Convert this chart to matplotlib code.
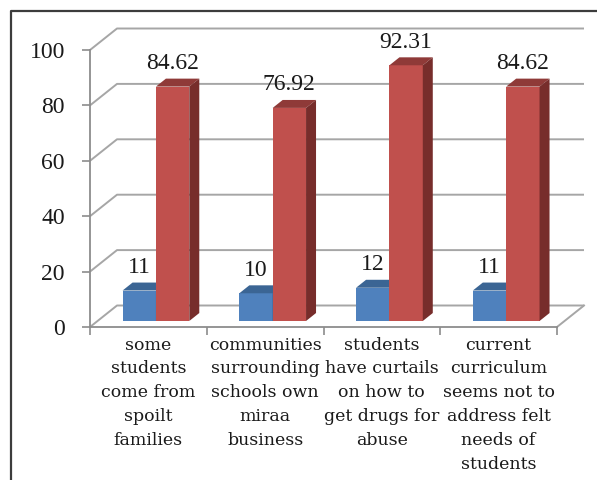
import numpy as np
import matplotlib.pyplot as plt
from matplotlib.patches import Polygon
from matplotlib.lines import Line2D

categories = ['some\nstudents\ncome from\nspoilt\nfamilies',
              'communities\nsurrounding\nschools own\nmiraa\nbusiness',
              'students\nhave curtails\non how to\nget drugs for\nabuse',
              'current\ncurriculum\nseems not to\naddress felt\nneeds of\nstudents']
blue_vals = [11, 10, 12, 11]
red_vals = [84.62, 76.92, 92.31, 84.62]
y_ticks = [0, 20, 40, 60, 80, 100]

# colours for the front / top / side faces of each series
blue_faces = ('#4f81bd', '#3b6594', '#34577f')
red_faces = ('#c0504d', '#8f3a38', '#772d2b')
grid_col = '#a6a6a6'

W, H = 597, 480
fig = plt.figure(figsize=(W / 100, H / 100), dpi=100)
ax = fig.add_axes([90 / W, 1 - 327 / H, 467 / W, 277 / H])
ax.set_xlim(0, 4)
ax.set_ylim(0, 100)

# depth of the 3d box, in data units (27px right, 21.5px up)
DX = 27 / 116.75
DY = 21.5 / 2.77

# back wall grid + left wall diagonals
for v in y_ticks:
    ax.plot([0, DX, 4 + DX], [v, v + DY, v + DY], color=grid_col, lw=1.4,
            clip_on=False, zorder=1, solid_capstyle='butt')
ax.plot([4, 4 + DX], [0, DY], color=grid_col, lw=1.4, clip_on=False, zorder=1)

w = 1 / 3.5       # gap width 150%
f0, f1 = 0.28, 0.37  # bar position / thickness inside the depth


def draw_bar(x0, v, faces):
    base = f0 * DY
    top = base + v
    ax.bar(x0, v, width=w, bottom=base, align='edge', color=faces[0],
           clip_on=False, zorder=3)
    ax.add_patch(Polygon([(x0, top), (x0 + w, top),
                          (x0 + w + f1 * DX, top + f1 * DY),
                          (x0 + f1 * DX, top + f1 * DY)],
                         closed=True, fc=faces[1], ec='none', clip_on=False, zorder=3))
    ax.add_patch(Polygon([(x0 + w, base), (x0 + w, top),
                          (x0 + w + f1 * DX, top + f1 * DY),
                          (x0 + w + f1 * DX, base + f1 * DY)],
                         closed=True, fc=faces[2], ec='none', clip_on=False, zorder=3))
    ax.text(x0 + w / 2, top + 8.3, f'{v:g}', ha='center', va='center',
            fontsize=17, family='Liberation Serif', color='#1a1a1a', zorder=4)


for i in range(len(categories)):
    xb = i + 0.5 - w + f0 * DX
    draw_bar(xb, blue_vals[i], blue_faces)
    draw_bar(xb + w, red_vals[i], red_faces)

for s in ['top', 'right']:
    ax.spines[s].set_visible(False)
for s in ['left', 'bottom']:
    ax.spines[s].set_color('#8c8c8c')
    ax.spines[s].set_linewidth(1.3)
    ax.spines[s].set_zorder(2)

ax.set_yticks(y_ticks)
ax.set_yticklabels([str(t) for t in y_ticks], family='Liberation Serif',
                   fontsize=17, color='#1a1a1a')
ax.tick_params(axis='y', direction='out', length=6, width=1.2, color='#8c8c8c', pad=12)

ax.set_xticks(range(5))
ax.set_xticklabels([])
ax.tick_params(axis='x', which='major', direction='out', length=6, width=1.2,
               color='#8c8c8c')
ax.set_xticks(np.arange(len(categories)) + 0.5, minor=True)
ax.set_xticklabels(categories, minor=True, family='DejaVu Serif', fontsize=12.5,
                   color='#1a1a1a', va='top', linespacing=1.52)
ax.tick_params(axis='x', which='minor', length=0, pad=7)

# outer chart frame (left and top edges)
fig.add_artist(Line2D([10.5 / W, 10.5 / W, 1], [0, 1 - 11 / H, 1 - 11 / H],
                      transform=fig.transFigure, color='#3c3c3c', lw=1.6))

fig.savefig('out.png', dpi=100)
